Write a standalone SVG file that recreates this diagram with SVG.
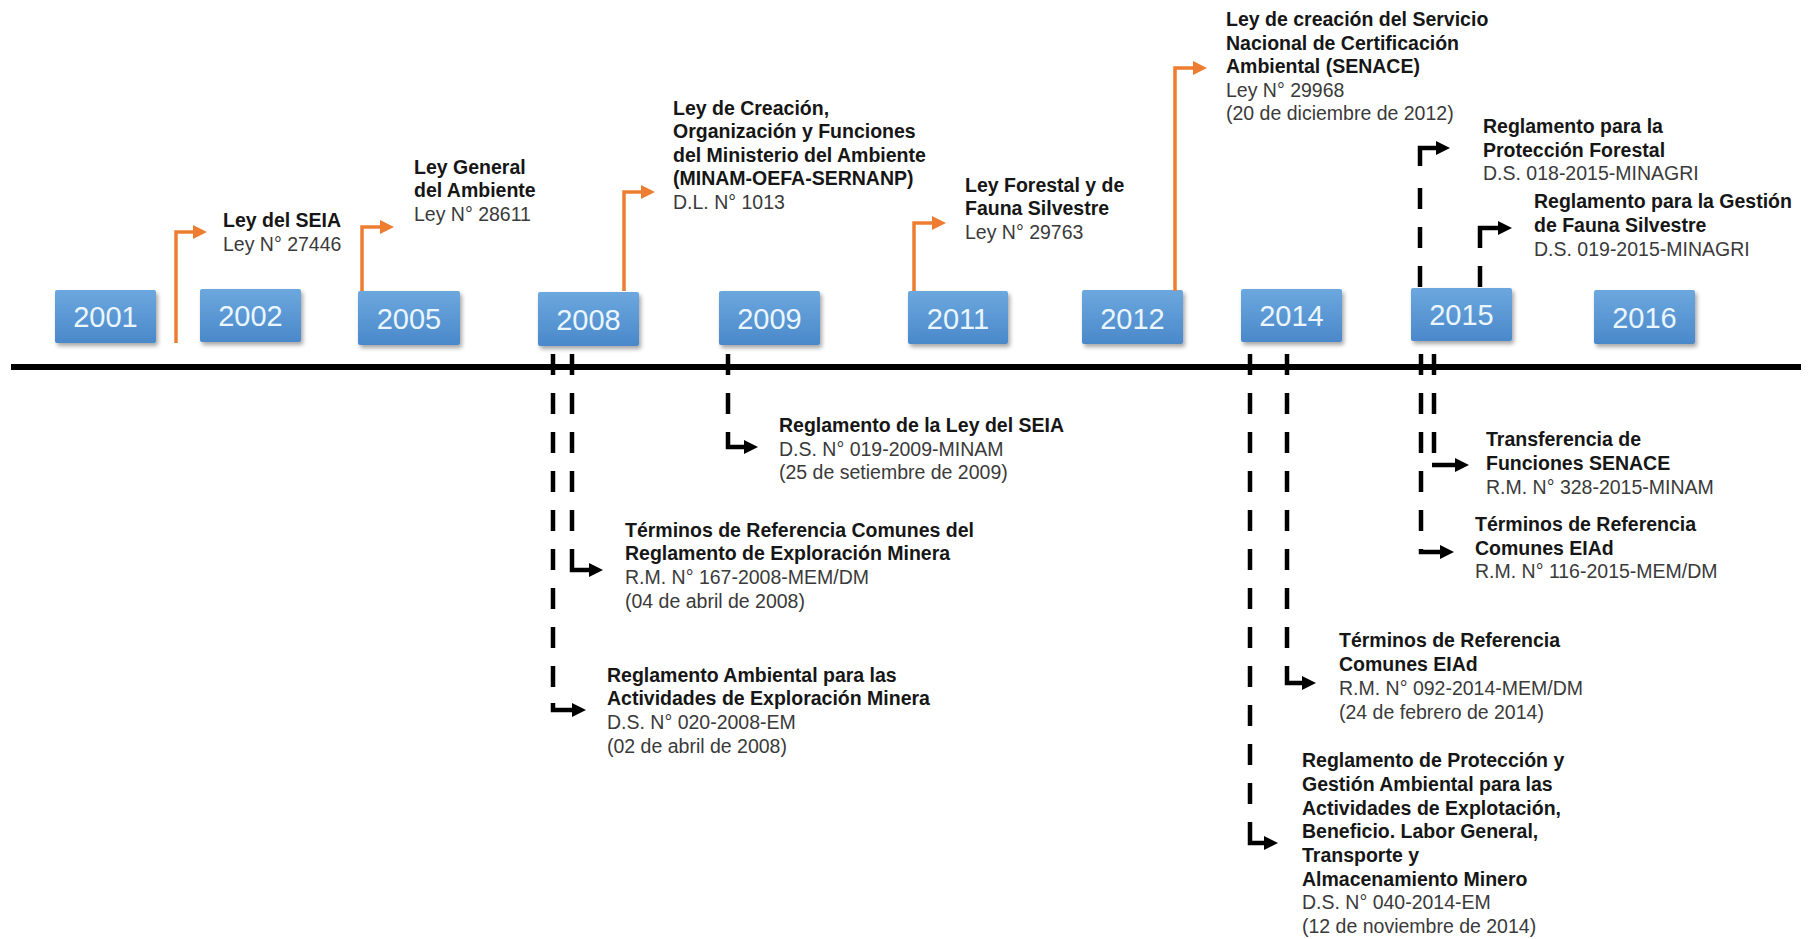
<svg xmlns="http://www.w3.org/2000/svg" width="1812" height="939" viewBox="0 0 1812 939">
<style>
.t{font-family:'Liberation Sans',Arial,sans-serif;font-size:19.5px;fill:#3a3a3a}
.b{font-weight:bold;fill:#161616}
.yr{font-family:'Liberation Sans',Arial,sans-serif;font-size:29px;fill:#eaf6ff;text-anchor:middle}
.box{fill:url(#bg);filter:url(#sh)}
.or{stroke:#ed7d31;stroke-width:3.5;fill:none;marker-end:url(#ao)}
.bk{stroke:#000;stroke-width:4.5;fill:none}
.dash{stroke-dasharray:21 18}
.arr{marker-end:url(#ab)}
</style>
<defs>
<linearGradient id="bg" x1="0" y1="0" x2="0" y2="1">
<stop offset="0" stop-color="#6ca8de"/>
<stop offset="1" stop-color="#4a88ca"/>
</linearGradient>
<filter id="sh" x="-10%" y="-10%" width="130%" height="140%">
<feDropShadow dx="2" dy="3" stdDeviation="2" flood-color="#000" flood-opacity="0.35"/>
</filter>
<marker id="ao" markerUnits="userSpaceOnUse" markerWidth="16" markerHeight="14" refX="2" refY="7" orient="auto">
<path d="M0,0 L14,7 L0,14 z" fill="#ed7d31"/>
</marker>
<marker id="ab" markerUnits="userSpaceOnUse" markerWidth="16" markerHeight="14" refX="2" refY="7" orient="auto">
<path d="M0,0 L14,7 L0,14 z" fill="#000"/>
</marker>
</defs>
<rect width="1812" height="939" fill="#fff"/>

<g id="timeline">
<line x1="11" y1="367" x2="1801" y2="367" stroke="#000" stroke-width="6"/>
</g>

<g id="years">
<g id="y2001"><rect class="box" x="55" y="290" width="101" height="53" rx="2"/><text class="yr" x="105.5" y="327">2001</text></g>
<g id="y2002"><rect class="box" x="200" y="289" width="101" height="53" rx="2"/><text class="yr" x="250.5" y="326">2002</text></g>
<g id="y2005"><rect class="box" x="358" y="291" width="102" height="54" rx="2"/><text class="yr" x="409" y="329">2005</text></g>
<g id="y2008"><rect class="box" x="538" y="292" width="101" height="54" rx="2"/><text class="yr" x="588.5" y="330">2008</text></g>
<g id="y2009"><rect class="box" x="719" y="291" width="101" height="54" rx="2"/><text class="yr" x="769.5" y="329">2009</text></g>
<g id="y2011"><rect class="box" x="908" y="291" width="100" height="53" rx="2"/><text class="yr" x="958" y="329">2011</text></g>
<g id="y2012"><rect class="box" x="1082" y="290" width="101" height="54" rx="2"/><text class="yr" x="1132.5" y="329">2012</text></g>
<g id="y2014"><rect class="box" x="1241" y="289" width="101" height="53" rx="2"/><text class="yr" x="1291.5" y="326">2014</text></g>
<g id="y2015"><rect class="box" x="1411" y="288" width="101" height="53" rx="2"/><text class="yr" x="1461.5" y="325">2015</text></g>
<g id="y2016"><rect class="box" x="1594" y="290" width="101" height="54" rx="2"/><text class="yr" x="1644.5" y="328">2016</text></g>
</g>

<g id="connectors">
<path class="or" d="M176,343 V232 H195"/>
<path class="or" d="M362,291 V227 H382"/>
<path class="or" d="M624,291 V192 H643"/>
<path class="or" d="M914,291 V223 H934"/>
<path class="or" d="M1175,291 V68 H1195"/>

<path class="bk dash" d="M1420,287 V188"/>
<path class="bk arr" d="M1420,166 V148 H1438"/>
<path class="bk dash" d="M1480,287 V266"/>
<path class="bk arr" d="M1480,248 V228 H1500"/>

<path class="bk dash" d="M728,354 V414"/>
<path class="bk arr" d="M728,432 V447 H746"/>
<path class="bk dash" d="M572,354 V531"/>
<path class="bk arr" d="M572,549 V570 H591"/>
<path class="bk dash" d="M553,354 V688"/>
<path class="bk arr" d="M553,703 V710 H574"/>
<path class="bk dash" d="M1250,354 V805"/>
<path class="bk arr" d="M1250,822 V843 H1266"/>
<path class="bk dash" d="M1287,354 V648"/>
<path class="bk arr" d="M1287,666 V683 H1304"/>
<path class="bk dash" d="M1421,354 V531"/>
<path class="bk arr" d="M1421,549 V552 H1442"/>
<path class="bk dash" d="M1434,354 V453"/>
<path class="bk arr" d="M1432,465 H1457"/>
</g>

<g id="e2002"><text class="t"><tspan class="b" x="223" y="227">Ley del SEIA</tspan><tspan x="223" y="251">Ley N° 27446</tspan></text></g>
<g id="e2005"><text class="t"><tspan class="b" x="414" y="174">Ley General</tspan><tspan class="b" x="414" y="197">del Ambiente</tspan><tspan x="414" y="221">Ley N° 28611</tspan></text></g>
<g id="e2008"><text class="t"><tspan class="b" x="673" y="115">Ley de Creación,</tspan><tspan class="b" x="673" y="138">Organización y Funciones</tspan><tspan class="b" x="673" y="162">del Ministerio del Ambiente</tspan><tspan class="b" x="673" y="185">(MINAM-OEFA-SERNANP)</tspan><tspan x="673" y="209">D.L. N° 1013</tspan></text></g>
<g id="e2011"><text class="t"><tspan class="b" x="965" y="192">Ley Forestal y de</tspan><tspan class="b" x="965" y="215">Fauna Silvestre</tspan><tspan x="965" y="239">Ley N° 29763</tspan></text></g>
<g id="e2012"><text class="t"><tspan class="b" x="1226" y="26">Ley de creación del Servicio</tspan><tspan class="b" x="1226" y="50">Nacional de Certificación</tspan><tspan class="b" x="1226" y="73">Ambiental (SENACE)</tspan><tspan x="1226" y="97">Ley N° 29968</tspan><tspan x="1226" y="120">(20 de diciembre de 2012)</tspan></text></g>
<g id="e2015a"><text class="t"><tspan class="b" x="1483" y="133">Reglamento para la</tspan><tspan class="b" x="1483" y="157">Protección Forestal</tspan><tspan x="1483" y="180">D.S. 018-2015-MINAGRI</tspan></text></g>
<g id="e2015b"><text class="t"><tspan class="b" x="1534" y="208">Reglamento para la Gestión</tspan><tspan class="b" x="1534" y="232">de Fauna Silvestre</tspan><tspan x="1534" y="256">D.S. 019-2015-MINAGRI</tspan></text></g>
<g id="e2009"><text class="t"><tspan class="b" x="779" y="432">Reglamento de la Ley del SEIA</tspan><tspan x="779" y="456">D.S. N° 019-2009-MINAM</tspan><tspan x="779" y="479">(25 de setiembre de 2009)</tspan></text></g>
<g id="e2008a"><text class="t"><tspan class="b" x="625" y="537">Términos de Referencia Comunes del</tspan><tspan class="b" x="625" y="560">Reglamento de Exploración Minera</tspan><tspan x="625" y="584">R.M. N° 167-2008-MEM/DM</tspan><tspan x="625" y="608">(04 de abril de 2008)</tspan></text></g>
<g id="e2008b"><text class="t"><tspan class="b" x="607" y="682">Reglamento Ambiental para las</tspan><tspan class="b" x="607" y="705">Actividades de Exploración Minera</tspan><tspan x="607" y="729">D.S. N° 020-2008-EM</tspan><tspan x="607" y="753">(02 de abril de 2008)</tspan></text></g>
<g id="e2014a"><text class="t"><tspan class="b" x="1339" y="647">Términos de Referencia</tspan><tspan class="b" x="1339" y="671">Comunes EIAd</tspan><tspan x="1339" y="695">R.M. N° 092-2014-MEM/DM</tspan><tspan x="1339" y="719">(24 de febrero de 2014)</tspan></text></g>
<g id="e2014b"><text class="t"><tspan class="b" x="1302" y="767">Reglamento de Protección y</tspan><tspan class="b" x="1302" y="791">Gestión Ambiental para las</tspan><tspan class="b" x="1302" y="815">Actividades de Explotación,</tspan><tspan class="b" x="1302" y="838">Beneficio. Labor General,</tspan><tspan class="b" x="1302" y="862">Transporte y</tspan><tspan class="b" x="1302" y="886">Almacenamiento Minero</tspan><tspan x="1302" y="909">D.S. N° 040-2014-EM</tspan><tspan x="1302" y="933">(12 de noviembre de 2014)</tspan></text></g>
<g id="e2015c"><text class="t"><tspan class="b" x="1486" y="446">Transferencia de</tspan><tspan class="b" x="1486" y="470">Funciones SENACE</tspan><tspan x="1486" y="494">R.M. N° 328-2015-MINAM</tspan></text></g>
<g id="e2015d"><text class="t"><tspan class="b" x="1475" y="531">Términos de Referencia</tspan><tspan class="b" x="1475" y="555">Comunes EIAd</tspan><tspan x="1475" y="578">R.M. N° 116-2015-MEM/DM</tspan></text></g>
</svg>
